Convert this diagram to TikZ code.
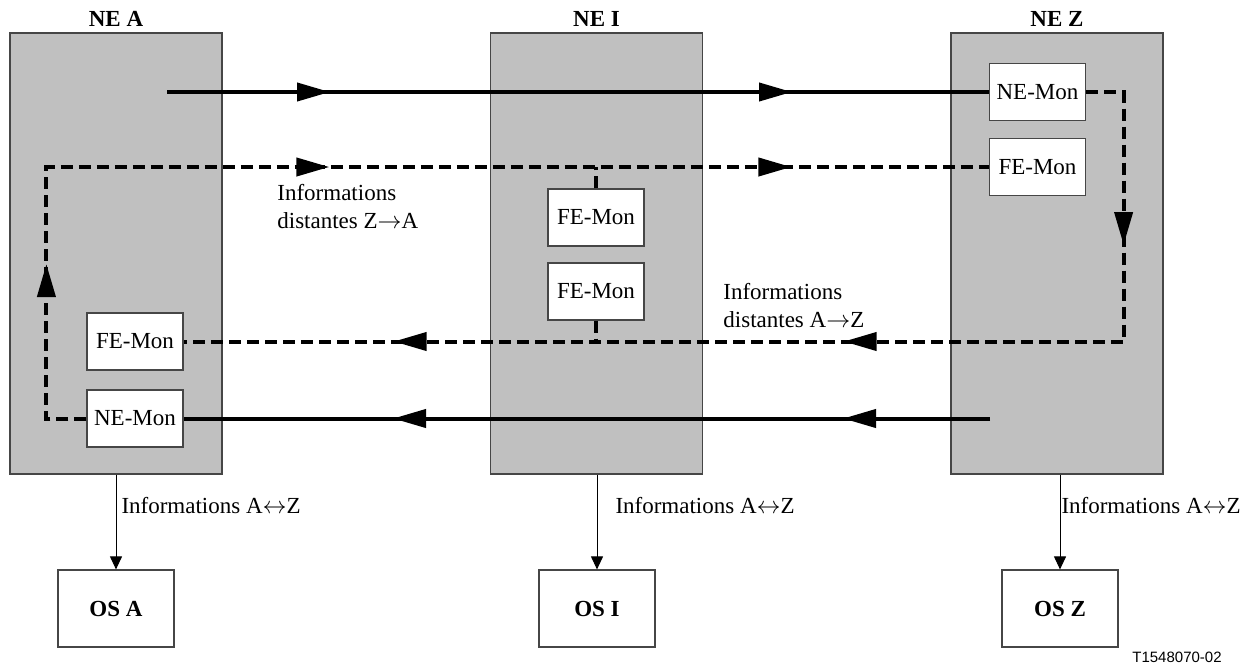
\documentclass[tikz,border=0pt]{standalone}
\usepackage{fontspec}
\setmainfont{Liberation Serif}
\setsansfont{Liberation Sans}
\usepackage{tikz}
\usetikzlibrary{arrows.meta, positioning, calc, decorations.markings}
\definecolor{negray}{RGB}{192,192,192}
\definecolor{edgegray}{RGB}{70,70,70}
\newcommand{\basefont}{\fontsize{11.5}{14}\selectfont}
\tikzset{
  nebox/.style={rectangle, draw=edgegray, fill=negray,
    minimum width=106pt, minimum height=220.5pt, line width=0.6pt},
  monbox/.style={rectangle, draw=edgegray, fill=white, inner sep=0pt,
    minimum width=48pt, minimum height=28.5pt, line width=0.6pt},
  osbox/.style={rectangle, draw=edgegray, fill=white, font=\basefont\bfseries,
    minimum width=58pt, minimum height=38.5pt, line width=0.6pt},
  title/.style={font=\basefont\bfseries, inner sep=0pt},
  flow/.style={line width=2pt, color=black},
  farflow/.style={flow, dash pattern=on 6pt off 3pt},
  tip/.style={postaction={decorate, decoration={markings,
    mark=at position #1 with {\arrow{Triangle[length=16.5pt, width=9pt]}}}}},
  osarrow/.style={-{Triangle[length=6.5pt, width=6pt]}, line width=0.5pt},
  note/.style={align=left, inner sep=0pt}
}

\begin{document}
\begin{tikzpicture}[x=0.5pt, y=-0.5pt, font=\basefont]
  \useasboundingbox (0,0) rectangle (1252,665);

  % Network elements
  \node[nebox] (neA) at (116,253.5) {};
  \node[nebox] (neI) at (596.5,253.5) {};
  \node[nebox] (neZ) at (1057,253.5) {};
  \node[title, above=3pt of neA] (tA) {NE A};
  \node[title, above=3pt of neI] (tI) {NE I};
  \node[title, above=3pt of neZ] (tZ) {NE Z};

  % Monitors
  \node[monbox] (neMonZ) at (1037.5,92) {NE-Mon};
  \node[monbox] (feMonZ) at (1037.5,167) {FE-Mon};
  \node[monbox] (feMonI1) at (596,217.5) {FE-Mon};
  \node[monbox] (feMonI2) at (596,291.5) {FE-Mon};
  \node[monbox] (feMonA) at (135,341.5) {FE-Mon};
  \node[monbox] (neMonA) at (135,418.5) {NE-Mon};

  % Signal A -> Z and Z -> A
  \coordinate (srcA) at (167,92);
  \coordinate (srcZ) at (990,418.5);
  \draw[flow, tip=81.5pt, tip=312.5pt] (srcA) -- (neMonZ);
  \draw[flow, tip=73.5pt, tip=298.5pt] (srcZ) -- (neMonA);

  % Remote information loops
  \draw[farflow, tip=95.25pt, tip=283.5pt, tip=508.5pt]
    (neMonZ.east) -- ++(37.5,0) |- (feMonA.east);
  \draw[farflow, tip=97.25pt, tip=287.25pt, tip=518.25pt]
    (neMonA.west) -- ++(-40,0) |- (feMonZ.west);
  \draw[farflow] (feMonI1.north) -- (feMonI1.north |- feMonZ.west);
  \draw[farflow] (feMonI2.south) -- (feMonI2.south |- feMonA.east);

  \node[note, anchor=north west] (infoZA) at (277,184) {Informations\\distantes Z$\rightarrow$A};
  \node[note, anchor=north west] (infoAZ) at (723,283) {Informations\\distantes A$\rightarrow$Z};

  % Operations systems
  \node[osbox] (osA) at (116,608.5) {OS A};
  \node[osbox] (osI) at (597,608.5) {OS I};
  \node[osbox] (osZ) at (1060,608.5) {OS Z};
  \draw[osarrow] (osA.north |- neA.south) -- node[pos=0.33, right, inner sep=2.5pt] {Informations A$\leftrightarrow$Z} (osA.north);
  \draw[osarrow] (osI.north |- neI.south) -- node[pos=0.33, right, inner sep=9pt] {Informations A$\leftrightarrow$Z} (osI.north);
  \draw[osarrow] (osZ.north |- neZ.south) -- node[pos=0.33, right, inner sep=0.5pt] {Informations A$\leftrightarrow$Z} (osZ.north);

  \node[font=\sffamily\fontsize{7.5}{9}\selectfont] (figref) at (1177,657) {T1548070-02};
\end{tikzpicture}
\end{document}
